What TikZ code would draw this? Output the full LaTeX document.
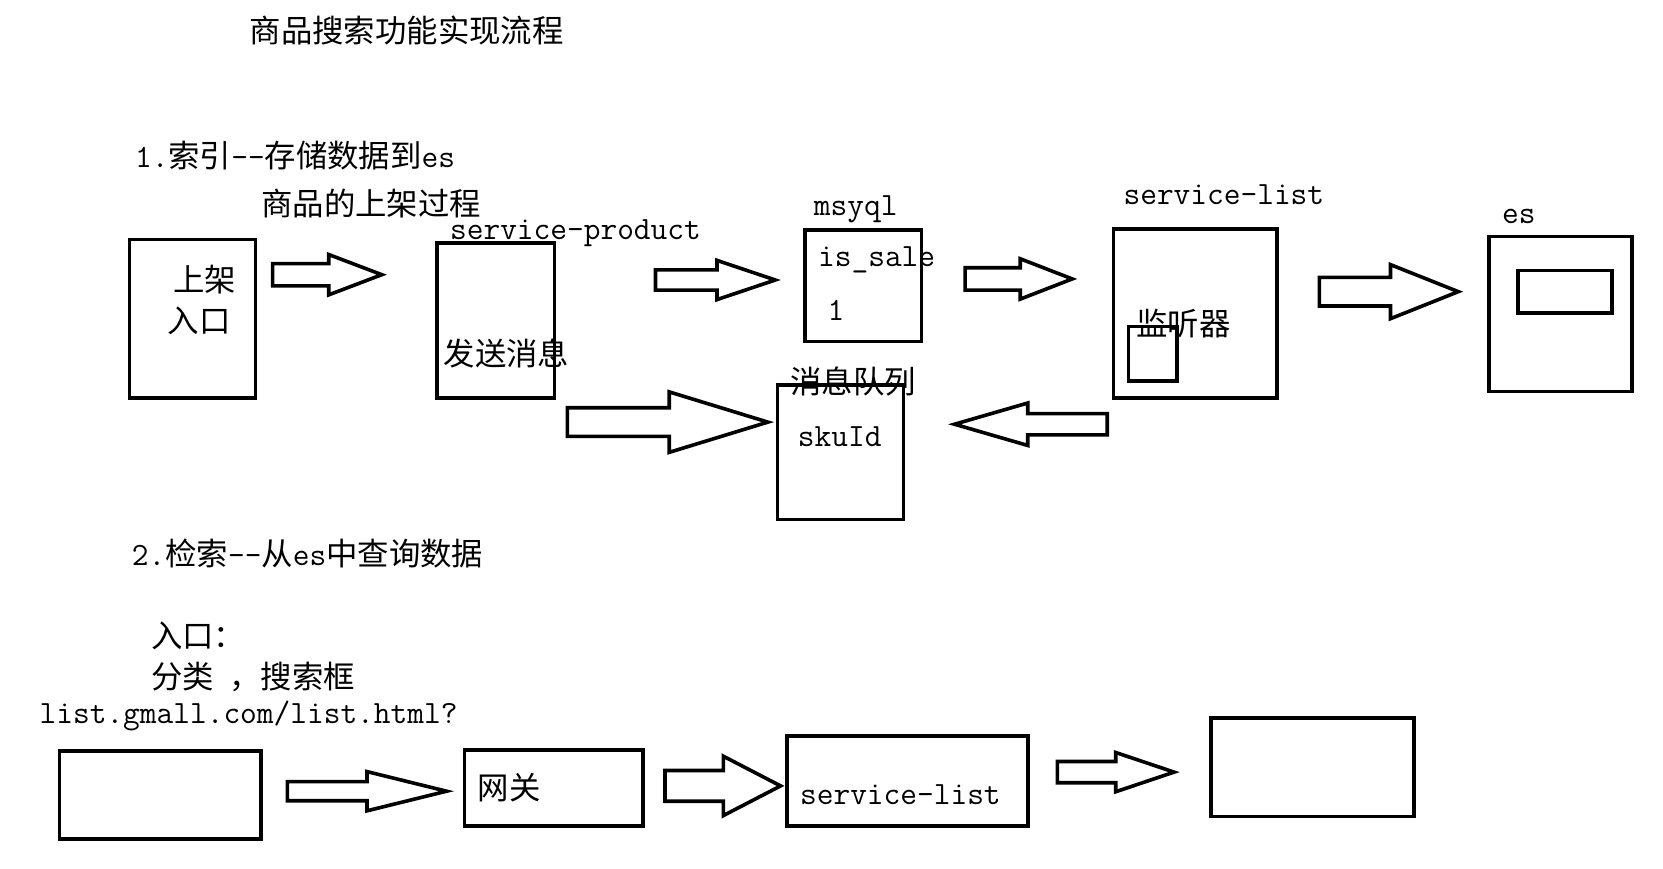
\documentclass[tikz,border=0pt]{standalone}
\usepackage{fontspec}
\setmainfont{Noto Sans CJK SC}
\usetikzlibrary{fit}
\newcommand\lt[1]{{\ttfamily\fontsize{15.3pt}{16pt}\selectfont #1}}
\tikzset{
  box/.style={draw, line width=1.7pt, inner sep=0pt},
  lbl/.style={anchor=west, inner sep=0pt, font=\fontsize{14.8pt}{16pt}\selectfont},
  arr/.style={draw, line width=1.7pt, line join=miter, fill=white}
}
\newcommand\barrow[6]{\draw[arr] ({#1},{#4-#5}) -- ({#2},{#4-#5}) -- ({#2},{#4-#6}) -- ({#3},{#4}) -- ({#2},{#4+#6}) -- ({#2},{#4+#5}) -- ({#1},{#4+#5}) -- cycle;}
\begin{document}
\begin{tikzpicture}[x=0.5pt,y=-0.5pt]
\fill[white] (0,0) rectangle (1568,819);
\useasboundingbox (0,0) rectangle (1568,819);
% boxes
\node[box, fit={(122,226) (241,375)}] (A) {};
\node[box, fit={(412,229) (523,375)}] (B) {};
\node[box, fit={(759,217) (869,322)}] (C) {};
\node[box, fit={(1050,216) (1204,375)}] (D) {};
\node[box, fit={(1064,308) (1110,359)}] (D2) {};
\node[box, fit={(1404,223) (1539,369)}] (E) {};
\node[box, fit={(1431,255) (1520,295)}] (E2) {};
\node[box, fit={(733,363) (852,490)}] (F) {};
\node[box, fit={(56,708) (246,791)}] (G) {};
\node[box, fit={(438,707) (606,779)}] (H) {};
\node[box, fit={(742,694) (969,779)}] (I) {};
\node[box, fit={(1142,677) (1333,770)}] (J) {};
% block arrows
\barrow{257}{310}{360}{259}{10.5}{19}
\barrow{618}{676}{731}{264}{9.5}{18.5}
\barrow{910}{962}{1011}{263}{10.5}{19}
\barrow{1244}{1311}{1375}{275}{13.5}{25.5}
\barrow{535}{631}{724}{398}{13.5}{28.5}
\barrow{1044}{969}{900}{400}{10}{20}
\barrow{271}{346}{421}{746}{9}{18.5}
\barrow{627}{682}{736}{741}{14.5}{28}
\barrow{997}{1052}{1107}{728}{10}{18.5}
% texts
\node[lbl] (title) at (235,29) {商品搜索功能实现流程};
\node[lbl] (sec1) at (127,147) {\lt{1.}索引\lt{-{}-}存储数据到\lt{es}};
\node[lbl] (sub1) at (246,192) {商品的上架过程};
\node[lbl] (tsp) at (424,220) {\lt{service-product}};
\node[lbl] (tmy) at (767,197) {\lt{msyql}};
\node[lbl] (tsl) at (1059,184) {\lt{service-list}};
\node[lbl] (tes) at (1416,204) {\lt{es}};
\node[lbl] (tsj) at (163,264) {上架};
\node[lbl] (trk) at (158,302) {入口};
\node[lbl] (tfs) at (418,333) {发送消息};
\node[lbl] (tis) at (771,245) {\lt{is\_sale}};
\node[lbl] (tone) at (780,293) {\lt{1}};
\node[lbl] (tjt) at (1071,305) {监听器};
\node[lbl] (tmq) at (745,360) {消息队列};
\node[lbl] (tsku) at (752,412) {\lt{skuId}};
\node[lbl] (sec2) at (124,522) {\lt{2.}检索\lt{-{}-}从\lt{es}中查询数据};
\node[lbl] (trk2) at (142,599) {入口：};
\node[lbl] (tfl) at (142,638) {分类\hspace{0.5em}，搜索框};
\node[lbl] (url) at (37,675) {\lt{list.gmall.com/list.html?}};
\node[lbl] (twg) at (450,743) {网关};
\node[lbl] (tsl2) at (754,749) {\lt{service-list}};
\end{tikzpicture}
\end{document}
